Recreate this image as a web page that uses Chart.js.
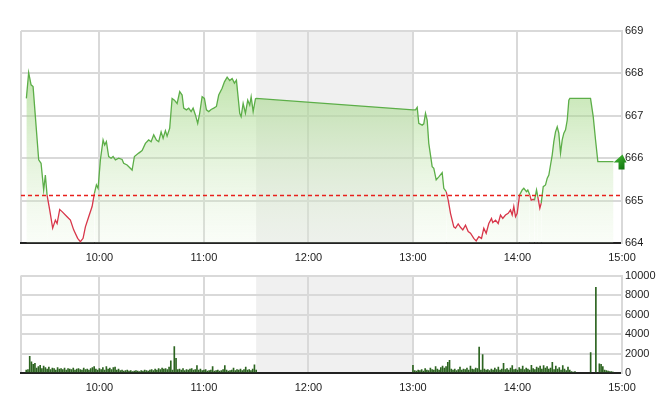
<!DOCTYPE html>
<html>
<head>
<meta charset="utf-8">
<script src="https://cdn.jsdelivr.net/npm/chart.js@4.4.1/dist/chart.umd.min.js"></script>
<style>
    html, body { margin: 0; padding: 0; background: #fff; }
    #wrap { position: relative; width: 660px; height: 412px; overflow: hidden; }
    #priceChart { position: absolute; left: 0; top: 0; }
    #volChart { position: absolute; left: 0; top: 266px; }
</style>
</head>
<body>
<div id="wrap">
    <canvas id="priceChart" width="660" height="268"></canvas>
    <canvas id="volChart" width="660" height="134"></canvas>
</div>
<script>
// Session and axis labels
const sessionStart = '9:15';
const sessionEnd = '15:00';
const hourTicks = ['10:00', '11:00', '12:00', '13:00', '14:00', '15:00'];
const lunchBreak = ['11:30', '13:00'];

const refPrice = 665.12;
const priceTicks = [664, 665, 666, 667, 668, 669];
const volTicks = [0, 2000, 4000, 6000, 8000, 10000];

// Index price through the day
const priceTimes = [
    '9:18:05', '9:19:24', '9:20:47', '9:21:56', '9:23:15', '9:25:09', '9:26:31', '9:28:01', '9:28:59', '9:29:58',
    '9:31:28', '9:33:11', '9:34:44', '9:35:43', '9:37:13', '9:38:35', '9:41:27', '9:43:21', '9:45:14', '9:47:32',
    '9:49:05', '9:50:38', '9:51:58', '9:53:52', '9:55:49', '9:57:08', '9:58:17', '9:59:15', '10:00:34', '10:02:07',
    '10:03:02', '10:04:01', '10:05:20', '10:06:43', '10:07:52', '10:09:11', '10:11:05', '10:13:02', '10:13:57', '10:15:54',
    '10:18:47', '10:20:06', '10:22:34', '10:24:31', '10:26:25', '10:28:18', '10:29:41', '10:31:11', '10:32:44', '10:34:03',
    '10:35:26', '10:36:35', '10:37:54', '10:38:52', '10:40:22', '10:41:44', '10:43:04', '10:44:37', '10:46:07', '10:47:29',
    '10:48:24', '10:49:58', '10:51:17', '10:52:39', '10:53:48', '10:55:07', '10:56:26', '10:57:35', '10:58:58', '11:00:17',
    '11:01:26', '11:02:46', '11:04:08', '11:05:38', '11:07:11', '11:08:30', '11:10:27', '11:11:47', '11:13:20', '11:14:49',
    '11:16:12', '11:17:31', '11:18:40', '11:19:25', '11:20:34', '11:21:22', '11:22:31', '11:23:50', '11:25:09', '11:26:18',
    '11:27:07', '11:28:16', '11:29:35', '11:30:00',
    '13:00:00', '13:01:27', '13:02:26', '13:03:21', '13:05:18', '13:06:13', '13:07:12', '13:08:10', '13:09:05', '13:11:02',
    '13:11:58', '13:13:20', '13:14:50', '13:16:47', '13:17:42', '13:19:05', '13:20:14', '13:21:33', '13:23:27', '13:24:25',
    '13:25:58', '13:27:17', '13:28:37', '13:30:10', '13:31:43', '13:33:02', '13:34:55', '13:36:18', '13:37:48', '13:39:21',
    '13:40:40', '13:42:02', '13:43:32', '13:45:05', '13:45:50', '13:47:23', '13:48:56', '13:50:15', '13:51:34', '13:53:07',
    '13:54:40', '13:56:00', '13:56:58', '13:57:53', '13:58:52', '13:59:50', '14:01:10', '14:02:43', '14:03:38', '14:05:11',
    '14:05:56', '14:07:05', '14:07:53', '14:09:02', '14:09:47', '14:10:56', '14:11:41', '14:12:50', '14:13:38', '14:14:47',
    '14:16:06', '14:17:05', '14:18:00', '14:18:58', '14:19:57', '14:20:52', '14:21:50', '14:22:49', '14:23:44', '14:24:43',
    '14:25:41', '14:26:37', '14:27:35', '14:28:34', '14:29:29', '14:30:03', '14:41:56', '14:43:29', '14:44:49', '14:46:08',
    '14:55:08'
];
const prices = [
    667.41, 668.02, 667.73, 667.69, 666.98, 665.96, 665.88, 665.25, 665.60, 665.13,
    664.78, 664.35, 664.54, 664.46, 664.79, 664.74, 664.62, 664.54, 664.31, 664.11,
    664.03, 664.11, 664.38, 664.62, 664.86, 665.17, 665.37, 665.29, 665.96, 666.43,
    666.31, 666.39, 666.04, 666.00, 666.04, 665.96, 666.00, 665.97, 665.88, 665.84,
    665.72, 666.04, 666.12, 666.18, 666.35, 666.43, 666.39, 666.55, 666.43, 666.39,
    666.62, 666.47, 666.65, 666.52, 666.71, 667.41, 667.37, 667.29, 667.57, 667.49,
    667.18, 667.14, 667.18, 667.10, 667.18, 667.02, 666.82, 667.06, 667.45, 667.41,
    667.14, 667.10, 667.15, 667.18, 667.22, 667.49, 667.65, 667.80, 667.91, 667.83,
    667.88, 667.77, 667.84, 667.53, 667.06, 666.98, 667.29, 667.06, 667.37, 667.25,
    667.45, 667.10, 667.40, 667.41,
    667.14, 667.14, 667.20, 666.82, 666.78, 666.81, 667.06, 666.90, 666.35, 665.80,
    665.76, 665.49, 665.56, 665.66, 665.29, 665.21, 665.01, 664.70, 664.38, 664.35,
    664.45, 664.37, 664.31, 664.42, 664.27, 664.23, 664.11, 664.05, 664.15, 664.11,
    664.35, 664.23, 664.46, 664.58, 664.48, 664.54, 664.46, 664.66, 664.58, 664.66,
    664.70, 664.78, 664.66, 664.86, 664.62, 664.70, 665.13, 665.25, 665.29, 665.21,
    665.25, 665.13, 665.01, 665.03, 665.01, 665.25, 665.09, 664.82, 664.94, 665.33,
    665.37, 665.53, 665.60, 665.84, 666.08, 666.39, 666.62, 666.74, 666.59, 666.12,
    666.43, 666.59, 666.67, 666.90, 667.37, 667.41, 667.41, 666.98, 666.43, 665.92,
    665.92
];

// Volume, one bar per minute
const volMorningStart = '9:18';
const volMorning = [
    300, 350, 1700, 1150, 900, 1000, 500, 650, 800, 450,
    700, 550, 400, 600, 350, 500, 450, 300, 550, 400,
    450, 350, 500, 300, 450, 400, 350, 500, 300, 400,
    450, 350, 300, 500, 350, 400, 300, 450, 550, 650,
    400, 300, 450, 350, 550, 300, 650, 400, 500, 350,
    550, 600, 300, 400, 250, 300, 200, 250, 300, 200,
    250, 150, 200, 250, 200, 150, 250, 200, 300, 250,
    200, 300, 350, 250, 400, 300, 450, 350, 500, 400,
    450, 350, 600, 1250, 300, 2700, 1500, 350, 400, 300,
    450, 250, 350, 300, 400, 450, 300, 350, 750, 300,
    400, 250, 300, 350, 200, 250, 300, 650, 200, 250,
    300, 200, 250, 350, 750, 300, 200, 250, 300, 500,
    250, 350, 300, 400, 250, 350, 600, 300, 350, 250,
    400, 850, 300
];
const volAfternoonStart = '13:00';
const volAfternoon = [
    800, 250, 200, 300, 250, 350, 200, 450, 300, 250,
    500, 350, 300, 650, 400, 300, 550, 700, 500, 650,
    1100, 1300, 400, 300, 400, 250, 350, 600, 300, 400,
    350, 500, 300, 700, 400, 350, 500, 450, 2650, 300,
    1900, 400, 300, 350, 250, 400, 300, 500, 350, 600,
    300, 400, 1000, 350, 450, 300, 500, 750, 350, 400,
    300, 550, 400, 700, 350, 500, 400, 300, 800, 450,
    350, 600, 500, 700, 400, 750, 500, 650, 400, 500,
    1100, 350, 700, 400, 550, 300, 750, 400, 250, 600,
    300, 150, 100, 150
];
const volCloseTimes = ['14:42', '14:45', '14:47', '14:48', '14:49', '14:50', '14:51', '14:52', '14:53', '14:54', '14:55'];
const volClose = [2100, 8800, 950, 900, 650, 300, 250, 200, 150, 150, 100];

const FONT = { family: 'Liberation Sans, Arial, sans-serif', size: 11 };
const GRID = '#d9d9d9';
const GREEN = '#5cae48';
const RED = '#d8364a';

function toMin(s) {
    const p = s.split(':').map(Number);
    return p[0] * 60 + p[1] + (p[2] || 0) / 60;
}

function fmt(m) {
    return Math.floor(m / 60) + ':' + String(m % 60).padStart(2, '0');
}

// Shared time axis (9:15 -> 15:00)
function timeAxis(height) {
    return {
        type: 'linear',
        min: toMin(sessionStart),
        max: toMin(sessionEnd),
        offset: false,
        afterBuildTicks: s => {
            s.ticks = [toMin(sessionStart)].concat(hourTicks.map(toMin)).map(v => ({ value: v }));
        },
        afterFit: s => { s.height = height; },
        grid: { color: GRID, lineWidth: 2, drawTicks: false, offset: false },
        border: { color: '#222', width: 2 },
        ticks: {
            padding: 8, color: '#222', font: FONT, maxRotation: 0, autoSkip: false,
            callback: v => (v % 60 === 0 ? fmt(v) : '')
        }
    };
}

function valueAxis(ticks) {
    return {
        position: 'right',
        min: ticks[0],
        max: ticks[ticks.length - 1],
        afterBuildTicks: s => { s.ticks = ticks.map(v => ({ value: v })); },
        afterFit: s => { s.width = 38; },
        grid: { color: GRID, lineWidth: 2, drawTicks: false },
        border: { color: GRID, width: 2 },
        ticks: { padding: 3, color: '#222', font: FONT, callback: v => String(v) }
    };
}

// Grey band over the lunch break
const lunchShade = {
    id: 'lunchShade',
    beforeDraw(chart) {
        const { ctx, chartArea: a, scales: { x } } = chart;
        const x0 = x.getPixelForValue(toMin(lunchBreak[0]));
        const x1 = x.getPixelForValue(toMin(lunchBreak[1]));
        ctx.save();
        ctx.fillStyle = '#f0f0f0';
        ctx.fillRect(x0, a.top, x1 - x0, a.bottom - a.top);
        ctx.restore();
    }
};

// Dashed reference price + last price arrow
const refLine = {
    id: 'refLine',
    afterDatasetsDraw(chart) {
        const { ctx, chartArea: a, scales: { y } } = chart;
        const py = y.getPixelForValue(refPrice);
        ctx.save();
        ctx.strokeStyle = '#e8201c';
        ctx.lineWidth = 1.3;
        ctx.setLineDash([4, 3]);
        ctx.beginPath();
        ctx.moveTo(a.left, py);
        ctx.lineTo(a.right, py);
        ctx.stroke();
        ctx.setLineDash([]);

        const pts = chart.getDatasetMeta(0).data;
        const last = pts[pts.length - 1];
        const ex = last.x, ey = last.y;
        const g = ctx.createLinearGradient(ex, ey - 8, ex + 12, ey + 8);
        g.addColorStop(0, '#4cc23a');
        g.addColorStop(1, '#0b6e0b');
        ctx.fillStyle = g;
        ctx.beginPath();
        ctx.moveTo(ex, ey + 1);
        ctx.lineTo(ex + 9, ey - 7);
        ctx.lineTo(ex + 13, ey + 1);
        ctx.lineTo(ex + 11, ey + 1);
        ctx.lineTo(ex + 11, ey + 8);
        ctx.lineTo(ex + 5, ey + 8);
        ctx.lineTo(ex + 5, ey + 1);
        ctx.closePath();
        ctx.fill();
        ctx.restore();
    }
};

// Price chart
new Chart(document.getElementById('priceChart'), {
    type: 'line',
    data: {
        datasets: [{
            data: priceTimes.map((t, i) => ({ x: toMin(t), y: prices[i] })),
            borderColor: GREEN,
            borderWidth: 1.3,
            pointRadius: 0,
            tension: 0,
            fill: 'start',
            backgroundColor: c => {
                const a = c.chart.chartArea;
                if (!a) return 'rgba(0,0,0,0)';
                const g = c.chart.ctx.createLinearGradient(0, a.top, 0, a.bottom);
                g.addColorStop(0, 'rgba(125,198,85,0.68)');
                g.addColorStop(1, 'rgba(228,244,218,0.2)');
                return g;
            },
            segment: {
                borderColor: c => ((c.p0.parsed.y + c.p1.parsed.y) / 2 >= refPrice ? GREEN : RED)
            }
        }]
    },
    options: {
        responsive: false,
        animation: false,
        layout: { padding: { left: 21, top: 31, right: 0, bottom: 0 } },
        plugins: { legend: { display: false }, tooltip: { enabled: false } },
        scales: { x: timeAxis(25), y: valueAxis(priceTicks) }
    },
    plugins: [lunchShade, refLine]
});

// Volume chart
const volData = []
    .concat(volMorning.map((v, i) => ({ x: toMin(volMorningStart) + i, y: v })))
    .concat(volAfternoon.map((v, i) => ({ x: toMin(volAfternoonStart) + i, y: v })))
    .concat(volClose.map((v, i) => ({ x: toMin(volCloseTimes[i]), y: v })));

new Chart(document.getElementById('volChart'), {
    type: 'bar',
    data: {
        datasets: [{
            data: volData,
            backgroundColor: '#2c6420',
            barThickness: 1,
            borderWidth: 0
        }]
    },
    options: {
        responsive: false,
        animation: false,
        layout: { padding: { left: 21, top: 7, right: 0, bottom: 0 } },
        plugins: { legend: { display: false }, tooltip: { enabled: false } },
        scales: { x: timeAxis(27), y: valueAxis(volTicks) }
    },
    plugins: [lunchShade]
});
</script>
</body>
</html>
